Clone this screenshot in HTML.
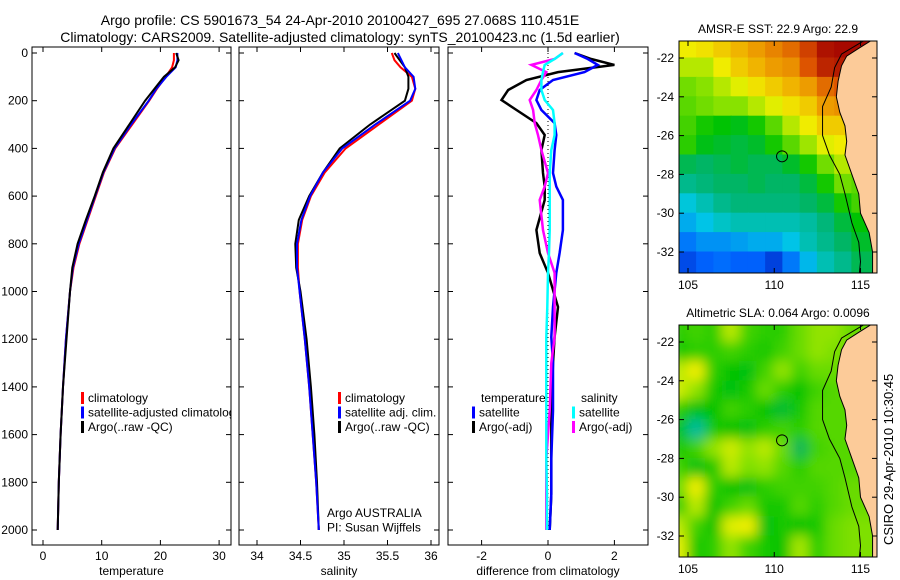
<!DOCTYPE html>
<html><head><meta charset="utf-8">
<style>
html,body{margin:0;padding:0;background:#fff;}
svg{display:block;font-family:"Liberation Sans",sans-serif;}
text{fill:#000;}
</style></head>
<body>
<svg id="fig" width="900" height="580" viewBox="0 0 900 580" xmlns="http://www.w3.org/2000/svg">
<defs>
  <clipPath id="cT"><rect x="32" y="47" width="199" height="498"/></clipPath>
  <clipPath id="cS"><rect x="239" y="47" width="200" height="498"/></clipPath>
  <clipPath id="cD"><rect x="448" y="47" width="200" height="498"/></clipPath>
  <clipPath id="cM1"><rect x="679" y="41" width="198" height="232"/></clipPath>
  <clipPath id="cM2"><rect x="679" y="325" width="198" height="232"/></clipPath>
  <filter id="blur" x="-10%" y="-10%" width="120%" height="120%"><feGaussianBlur stdDeviation="6"/></filter>
</defs>
<text x="340" y="25" font-size="14" text-anchor="middle">Argo profile: CS 5901673_54 24-Apr-2010 20100427_695 27.068S 110.451E</text>
<text x="340" y="42" font-size="14" text-anchor="middle">Climatology: CARS2009. Satellite-adjusted climatology: synTS_20100423.nc (1.5d earlier)</text>
<g id="plots"></g>
<text transform="translate(893,545) rotate(-90)" font-size="13">CSIRO 29-Apr-2010 10:30:45</text>
</svg>
<script>
// ---------- data ----------
const depths = [0,30,60,100,150,200,300,400,500,600,700,800,900,1000,1200,1400,1600,1800,2000];
const tempClim = [22.3,22.3,22.0,20.9,19.4,18.1,15.2,12.3,10.4,9.0,7.6,6.2,5.2,4.6,3.9,3.4,3.0,2.7,2.5];
const tempSat  = [22.9,22.9,22.6,21.0,19.3,18.0,15.0,12.2,10.3,8.9,7.5,6.1,5.1,4.6,3.9,3.4,3.0,2.7,2.5];
const tempArgo = [22.7,23.1,22.5,20.6,19.0,17.4,14.7,12.0,10.2,8.8,7.3,5.9,5.0,4.6,4.0,3.4,3.0,2.7,2.5];
const salClim = [35.55,35.58,35.65,35.78,35.82,35.78,35.40,35.02,34.78,34.62,34.52,34.47,34.47,34.49,34.55,34.60,34.64,34.68,34.71];
const salSat  = [35.62,35.66,35.70,35.80,35.82,35.76,35.36,34.98,34.76,34.61,34.51,34.46,34.46,34.49,34.55,34.60,34.64,34.68,34.71];
const salArgo = [35.58,35.64,35.70,35.74,35.74,35.70,35.30,34.95,34.76,34.60,34.48,34.44,34.45,34.50,34.57,34.62,34.66,34.69,34.71];
const diffDepths = [0,25,50,80,113,155,197,239,294,344,407,503,560,616,742,839,922,1065,1191,1300,1500,1700,1850,2000];
const diffTempSat  = [0.8,1.2,1.5,1.1,0.15,-0.25,-0.35,-0.2,0.2,0.25,0.2,0.15,0.25,0.45,0.45,0.35,0.25,0.15,0.1,0.15,0.15,0.1,0.1,0.05];
const diffTempArgo = [0.8,1.3,2.0,0.3,-0.65,-1.2,-1.4,-0.95,-0.35,-0.1,-0.2,-0.15,-0.1,-0.1,-0.35,-0.25,0.0,0.3,0.2,0.15,0.1,0.1,0.1,0.05];
const diffSalSat   = [0.45,0.2,-0.1,-0.15,-0.2,-0.2,-0.1,0.15,0.2,0.2,0.1,0.05,0.05,0.05,0.05,0.03,0.0,-0.02,-0.05,-0.05,-0.05,-0.05,-0.03,-0.03];
const diffSalArgo  = [0.45,0.2,-0.5,-0.05,-0.2,-0.35,-0.55,-0.45,-0.4,-0.3,-0.2,0.0,-0.1,-0.25,-0.15,0.0,0.2,0.2,0.2,0.1,0.05,-0.05,-0.05,-0.05];
const depthTicks = [0,200,400,600,800,1000,1200,1400,1600,1800,2000];
const tempTicks = [0,10,20,30];
const salTicks = [34,34.5,35,35.5,36];
const diffTicks = [-2,0,2];
const latTicks = [-22,-24,-26,-28,-30,-32];
const lonTicks = [105,110,115];
const mapLats = [-21.5,-22.5,-23.5,-24.5,-25.5,-26.5,-27.5,-28.5,-29.5,-30.5,-31.5,-32.5];
const mapLons = [105,106,107,108,109,110,111,112,113,114,115,116];
const sst = [
[23.5,23.6,23.8,24.0,24.2,24.4,24.6,25.0,25.5,25.6,25.6,25.6],
[23.2,23.2,23.5,23.8,24.0,24.2,24.3,24.8,25.3,25.4,25.4,25.4],
[22.9,23.0,23.2,23.4,23.6,23.8,24.0,24.2,24.6,24.8,24.8,24.8],
[22.8,22.9,23.0,23.0,23.2,23.4,23.6,23.8,24.2,24.3,24.3,24.3],
[22.7,22.5,22.4,22.3,22.5,22.8,23.2,23.5,23.8,23.8,23.5,23.5],
[22.6,22.3,22.2,22.1,22.2,22.5,22.8,23.1,23.4,23.5,23.3,23.3],
[22.0,21.9,22.0,22.1,22.0,22.0,22.2,22.5,22.9,23.2,23.0,23.0],
[21.7,21.8,21.9,21.9,22.0,21.9,21.9,22.1,22.5,22.9,22.8,22.8],
[21.3,21.5,21.7,21.8,21.8,21.8,21.8,21.9,22.1,22.5,22.7,22.7],
[21.0,21.2,21.4,21.5,21.5,21.5,21.5,21.6,21.8,22.1,22.4,22.4],
[20.6,20.8,20.8,20.9,21.0,21.0,21.2,21.5,21.7,21.9,22.2,22.2],
[20.2,20.4,20.5,20.4,20.4,20.1,20.6,21.1,21.5,21.7,22.0,22.0]];
const sla = [
[0.05,0.06,0.05,0.12,0.06,0.05,0.05,0.08,0.10,0.10,0.08,0.08],
[0.04,0.05,0.05,0.06,0.05,0.04,0.06,0.08,0.10,0.09,0.08,0.08],
[0.12,0.15,0.05,0.03,0.02,0.06,0.10,0.06,0.08,0.08,0.07,0.07],
[0.13,0.10,0.04,0.02,0.04,0.08,0.05,0.03,0.06,0.07,0.07,0.07],
[0.05,0.02,0.03,0.06,0.05,0.03,0.00,0.04,0.07,0.07,0.07,0.07],
[0.02,-0.06,0.04,0.03,0.02,0.05,0.06,0.05,0.07,0.07,0.07,0.07],
[0.04,0.06,0.10,0.13,0.10,0.12,0.08,-0.02,0.06,0.07,0.07,0.07],
[0.06,0.02,0.04,0.12,0.09,0.10,0.07,0.05,0.07,0.07,0.07,0.07],
[0.08,0.15,0.05,0.03,0.02,0.05,0.06,0.06,0.06,0.07,0.08,0.08],
[0.05,0.12,0.03,0.06,0.08,0.04,0.04,0.07,0.05,0.07,0.08,0.08],
[0.12,0.06,0.03,0.14,0.15,0.02,0.04,0.03,0.04,0.08,0.09,0.09],
[0.14,0.04,0.05,0.10,0.06,0.04,0.03,0.11,0.05,0.08,0.09,0.09]];
const coast = [[116.2,-21.0],[115.8,-21.0],[114.9,-21.5],[114.2,-21.9],[113.9,-22.4],[113.7,-23.2],[113.6,-24.0],[113.8,-24.8],[114.1,-25.5],[114.2,-26.3],[114.1,-27.0],[114.5,-28.0],[114.9,-29.0],[115.0,-30.0],[115.5,-31.0],[115.7,-32.0],[115.7,-33.4],[116.2,-33.4]];
const isobath = [[115.4,-21.0],[113.9,-21.8],[113.5,-22.5],[113.3,-23.5],[112.8,-24.5],[112.8,-26.0],[113.2,-27.0],[113.8,-28.0],[114.1,-29.0],[114.5,-30.5],[114.9,-31.5],[115.0,-32.5],[114.9,-33.4]];
const floatPos = [110.451,-27.068];

// ---------- helpers ----------
const NS = "http://www.w3.org/2000/svg";
const root = document.getElementById('plots');
function mk(tag, attrs, parent){ const e=document.createElementNS(NS,tag); for(const k in attrs) e.setAttribute(k,attrs[k]); (parent||root).appendChild(e); return e; }
const yD = d => 53 + d*0.2385;
const xT = v => 43 + v*5.87;
const xS = v => 257 + (v-34)*87;
const xDf = v => 548 + v*33.2;
function profile(xf, vals, ds, color, w, clip, name){
  const pts = vals.map((v,i)=> xf(v).toFixed(1)+','+yD(ds[i]).toFixed(1)).join(' ');
  const p = mk('polyline',{points:pts,fill:'none',stroke:color,'stroke-width':w,'clip-path':'url(#'+clip+')'});
  
  
}
function frame(x0,x1,name,xticks,xf,xlabel,leftLabels){
  const r = mk('rect',{x:x0,y:47,width:x1-x0,height:498,fill:'none',stroke:'#000','stroke-width':1});
  
  
  depthTicks.forEach(d=>{
    mk('line',{x1:x0,x2:x0+5,y1:yD(d),y2:yD(d),stroke:'#000'});
    mk('line',{x1:x1-5,x2:x1,y1:yD(d),y2:yD(d),stroke:'#000'});
    if(leftLabels){ const t=mk('text',{x:x0-4,y:yD(d)+4,'font-size':12,'text-anchor':'end'}); t.textContent=d;
        }
  });
  xticks.forEach(v=>{
    const x=xf(v);
    mk('line',{x1:x,x2:x,y1:545,y2:540,stroke:'#000'});
    mk('line',{x1:x,x2:x,y1:47,y2:52,stroke:'#000'});
    const t=mk('text',{x:x,y:560,'font-size':12,'text-anchor':'middle'}); t.textContent=v;
    
    
  });
  const l=mk('text',{x:(x0+x1)/2,y:575,'font-size':12,'text-anchor':'middle'}); l.textContent=xlabel;
  
  
}
function legend(x,y,items,clip){
  const g = mk('g',{'clip-path':clip?'url(#'+clip+')':''});
  
  
  items.forEach((it,i)=>{
    const yy=y+i*14.5;
    if(it[0]) mk('rect',{x:x,y:yy-10,width:3,height:12,fill:it[0]},g);
    const t=mk('text',{x:x+(it[2]===undefined?7:it[2]),y:yy,'font-size':12},g); t.textContent=it[1];
    
    
  });
}

// ---------- temperature panel ----------
frame(32,231,'temperature',tempTicks,xT,'temperature',true);
profile(xT,tempClim,depths,'#f00',2,'cT','temp-climatology-line');
profile(xT,tempSat,depths,'#00f',2,'cT','temp-satellite-line');
profile(xT,tempArgo,depths,'#000',2,'cT','temp-argo-line');
legend(81,402,[['#f00','climatology'],['#00f','satellite-adjusted climatology'],['#000','Argo(..raw -QC)']],'cT');

// ---------- salinity panel ----------
frame(239,439,'salinity',salTicks,xS,'salinity',false);
profile(xS,salClim,depths,'#f00',2,'cS','sal-climatology-line');
profile(xS,salArgo,depths,'#000',2,'cS','sal-argo-line');
profile(xS,salSat,depths,'#00f',2,'cS','sal-satellite-line');
legend(338,402,[['#f00','climatology'],['#00f','satellite adj. clim.'],['#000','Argo(..raw -QC)']]);
legend(327,517,[[null,'Argo AUSTRALIA',0],[null,'PI: Susan Wijffels',0]]);

// ---------- difference panel ----------
frame(448,648,'difference',diffTicks,xDf,'difference from climatology',false);
const z = mk('line',{x1:xDf(0),x2:xDf(0),y1:yD(0),y2:yD(2000),stroke:'#000','stroke-dasharray':'1,3'});
 
profile(xDf,diffTempArgo,diffDepths,'#000',2.5,'cD','diff-temp-argo-line');
profile(xDf,diffTempSat,diffDepths,'#00f',2.5,'cD','diff-temp-satellite-line');
profile(xDf,diffSalArgo,diffDepths,'#f0f',2.5,'cD','diff-sal-argo-line');
profile(xDf,diffSalSat,diffDepths,'#0ff',2.5,'cD','diff-sal-satellite-line');
legend(472,402,[[null,'temperature',9],['#00f','satellite'],['#000','Argo(-adj)']]);
legend(572,402,[[null,'salinity',9],['#0ff','satellite'],['#f0f','Argo(-adj)']]);

// ---------- maps ----------
const stops=[[0,[0,0,160]],[0.15,[0,100,255]],[0.28,[0,200,230]],[0.38,[0,180,110]],[0.47,[0,195,0]],[0.56,[130,225,0]],[0.64,[240,240,0]],[0.74,[240,170,0]],[0.86,[220,80,0]],[1,[160,0,0]]];
function cmap(t){ t=Math.max(0,Math.min(1,t)); for(let i=1;i<stops.length;i++){ if(t<=stops[i][0]){ const a=stops[i-1],b=stops[i],f=(t-a[0])/(b[0]-a[0]); return 'rgb('+a[1].map((c,k)=>Math.round(c+(b[1][k]-c)*f)).join(',')+')'; } } return 'rgb(160,0,0)'; }
function map(y0,lat22y,grid,vmin,vmax,clip,name,title,blur){
  const lx = lon => 688 + (lon-105)*17.25;
  const ly = lat => lat22y + (-22-lat)*19.4;
  const g = mk('g',{'clip-path':'url(#'+clip+')'});
  
  
  const cells = mk('g',blur?{filter:'url(#blur)'}:{},g);
  grid.forEach((row,i)=>row.forEach((v,j)=>{
    const r=mk('rect',{x:lx(mapLons[j]-0.5-(blur?0.5:0))-0.5,y:ly(mapLats[i]+0.5+(i==0?1:0))-0.5,width:17.25*(1+(blur?1:0))+1,height:19.4*(i==0||i==grid.length-1?2:1)+1,fill:cmap((v-vmin)/(vmax-vmin))},cells);
    
    
  }));
  const land = mk('polygon',{points:coast.map(p=>lx(p[0])+','+ly(p[1])).join(' '),fill:'#fccb99',stroke:'#000','stroke-width':1},g);
   
  const iso = mk('polyline',{points:isobath.map(p=>lx(p[0])+','+ly(p[1])).join(' '),fill:'none',stroke:'#000','stroke-width':1},g);
   
  const c = mk('circle',{cx:lx(floatPos[0]),cy:ly(floatPos[1]),r:5.5,fill:'none',stroke:'#000','stroke-width':1},g);
   
  const fr = mk('rect',{x:679,y:y0,width:198,height:232,fill:'none',stroke:'#000'});
   
  latTicks.forEach(l=>{ const y=ly(l);
    mk('line',{x1:679,x2:684,y1:y,y2:y,stroke:'#000'}); mk('line',{x1:872,x2:877,y1:y,y2:y,stroke:'#000'});
    const t=mk('text',{x:674,y:y+4,'font-size':12,'text-anchor':'end'}); t.textContent=l;
      });
  lonTicks.forEach(l=>{ const x=lx(l);
    mk('line',{x1:x,x2:x,y1:y0+232,y2:y0+227,stroke:'#000'}); mk('line',{x1:x,x2:x,y1:y0,y2:y0+5,stroke:'#000'});
    const t=mk('text',{x:x,y:y0+248,'font-size':12,'text-anchor':'middle'}); t.textContent=l;
      });
  const tt=mk('text',{x:778,y:y0-8,'font-size':12,'text-anchor':'middle'}); tt.textContent=title;
   
}
map(41,58,sst,19.5,25.7,'cM1','sst','AMSR-E SST: 22.9 Argo: 22.9',false);
map(325,342,sla,-0.3,0.4,'cM2','sla','Altimetric SLA: 0.064 Argo: 0.0096',true);
</script>
</body></html>
